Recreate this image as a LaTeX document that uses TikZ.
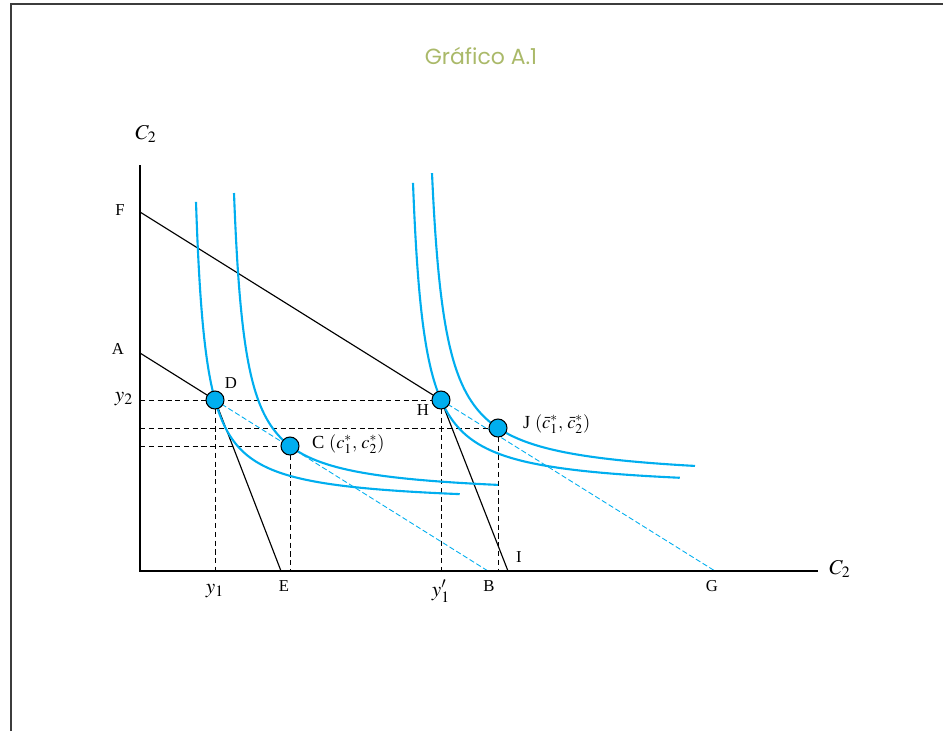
\documentclass[tikz,border=0pt]{standalone}
\usepackage{mathptmx}
\usepackage{fontspec}
\setmainfont{Liberation Serif}
\newfontfamily\titlefont{Poppins}
\definecolor{icblue}{RGB}{0,174,239}
\definecolor{titlegreen}{RGB}{170,185,105}
\definecolor{framegray}{RGB}{60,60,60}
\begin{document}
\begin{tikzpicture}[x=0.02cm, y=-0.02cm, every node/.style={font=\fontsize{9.5}{11}\selectfont},
    icurve/.style={icblue, line width=1.2pt},
    budget/.style={black, line width=0.65pt},
    bdash/.style={icblue, line width=0.5pt, dash pattern=on 3pt off 1.5pt},
    guide/.style={black, line width=0.5pt, dash pattern=on 3pt off 2pt},
    pt/.style={circle, draw=black, line width=0.6pt, fill=icblue, minimum size=0.36cm, inner sep=0pt},
    big/.style={font=\fontsize{12}{14}\selectfont}]
  \useasboundingbox (0,0) rectangle (943,731);
  \draw[framegray, line width=1.2pt] (11,731) -- (11,4) -- (950,4);
  \node[font=\titlefont\fontsize{12.5}{14}\selectfont, titlegreen] (title) at (481,56) {Gráfico A.1};
  % axes and points
  \coordinate (O) at (140,571); \coordinate (Ytop) at (140,165); \coordinate (Xend) at (818,571);
  \coordinate (F) at (140,212); \coordinate (A) at (140,353);
  \coordinate (E) at (281,571); \coordinate (B) at (488,571); \coordinate (I) at (508,571); \coordinate (G) at (715,571);
  \coordinate (D) at (215,400); \coordinate (C) at (290,446); \coordinate (H) at (441,400); \coordinate (J) at (498,428);
  % guides
  \draw[guide] (O |- D) -- (H);
  \draw[guide] (O |- J) -- (J);
  \draw[guide] (O |- C) -- (C);
  \foreach \p in {D,C,H,J} {\draw[guide] (\p) -- (\p |- O);}
  % budget lines
  \draw[bdash] (D) -- (B);
  \draw[bdash] (H) -- (G);
  \draw[budget] (A) -- (D) -- (E);
  \draw[budget] (F) -- (H) -- (I);
  % indifference curves
  \draw[icurve] plot[domain=2.3125:5.6136, samples=90, variable=\t] ({185.9+exp(\t)}, {505.3-3064/exp(\t)});
  \draw[icurve] plot[domain=2.4336:5.6183, samples=90, variable=\t] ({222.6+exp(\t)}, {497.5-3471/exp(\t)});
  \draw[icurve] plot[domain=2.4596:5.6302, samples=90, variable=\t] ({401.3+exp(\t)}, {490.7-3601/exp(\t)});
  \draw[icurve] plot[domain=2.6247:5.6234, samples=90, variable=\t] ({418.2+exp(\t)}, {481.3-4253/exp(\t)});
  \draw[black, line width=0.8pt] (Ytop) -- (O) -- (Xend);
  \foreach \p in {D,C,H,J} {\node[pt] (pt\p) at (\p) {};}
  % labels
  \node[big] (lCy) at (146,134) {$C_2$};
  \node[big] (lCx) at (840,569) {$C_2$};
  \node (lF) at (120,210) {F};
  \node (lA) at (118,349) {A};
  \node[big] (ly2) at (124,399) {$y_2$};
  \node (lD) at (231,383) {D};
  \node (lH) at (423,410) {H};
  \node[anchor=west, font=\fontsize{10.5}{12}\selectfont] (lC) at (306,444) {C $(c_1^{*},\, c_2^{*})$};
  \node[anchor=west, font=\fontsize{10.5}{12}\selectfont] (lJ) at (517,424) {J $(\bar{c}_1^{*},\, \bar{c}_2^{*})$};
  \node[big] (ly1) at (215,591) {$y_1$};
  \node (lE) at (284,586) {E};
  \node[big] (ly1p) at (441,591) {$y_1^{\prime}$};
  \node (lB) at (489,586) {B};
  \node (lI) at (519,557) {I};
  \node (lG) at (712,586) {G};
\end{tikzpicture}
\end{document}
